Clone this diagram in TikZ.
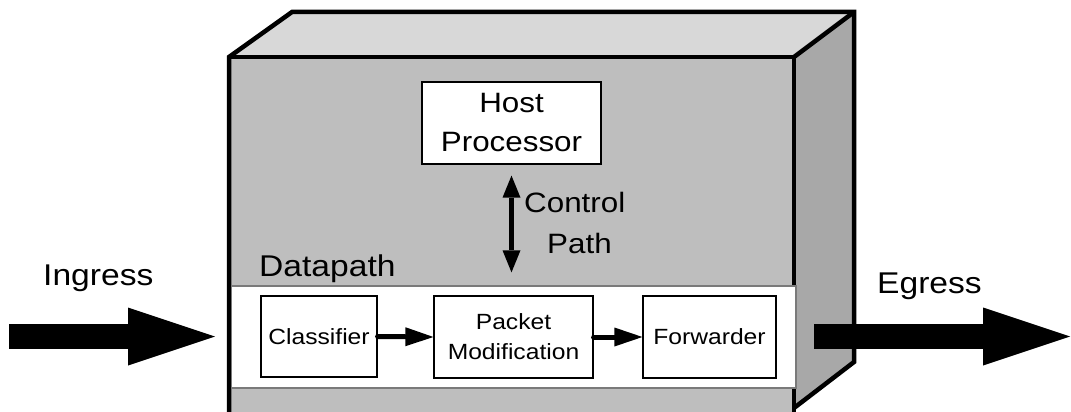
\documentclass[tikz,border=0pt]{standalone}
\usepackage{fontspec}
\setmainfont{Liberation Sans}[FakeStretch=1.12]
\usetikzlibrary{arrows.meta}

\definecolor{faceFront}{HTML}{BEBEBE}
\definecolor{faceTop}{HTML}{D8D8D8}
\definecolor{faceSide}{HTML}{A8A8A8}
\definecolor{bandEdge}{HTML}{7A7A7A}

\tikzset{
  outline/.style={draw=black, line width=4.5pt, line join=miter},
  unit/.style={draw=black, line width=1.2pt, fill=white, inner sep=0pt, align=center},
  flowarrow/.style={line width=5pt, line cap=round,
    -{Triangle[length=28pt,width=19pt,line width=0pt]}},
  ctlarrow/.style={line width=5pt,
    {Triangle[length=22pt,width=18pt,line width=0pt]}-{Triangle[length=22pt,width=18pt,line width=0pt]}},
  bigarrow/.style={line width=25pt,
    -{Triangle[length=87pt,width=58pt,line width=0pt]}},
  label/.style={inner sep=0pt, anchor=base west},
}

\begin{document}
\begin{tikzpicture}[x=1pt, y=-1pt]
\useasboundingbox (0,0) rectangle (1071,412);
\clip (0,0) rectangle (1071,412);

% enclosure: front, top and side faces
\fill[faceFront] (229,57) rectangle (794,430);
\fill[faceTop] (229,57) -- (292,12) -- (854,12) -- (794,57) -- cycle;
\fill[faceSide] (794,57) -- (854,12) -- (854,362) -- (794,408) -- cycle;
\draw[outline] (229,430) -- (229,57) -- (292,12) -- (854,12) -- (854,362) -- (794,408);
\draw[outline] (229,57) -- (794,57) -- (794,430);
\draw[outline] (794,57) -- (854,12);

% datapath band
\node[draw=bandEdge, line width=1.3pt, fill=white, inner sep=0pt,
      minimum width=565pt, minimum height=102pt] (band) at (513.5,337) {};
\draw[outline] (229,280) -- (229,395);

% host processor and control path
\node[unit, minimum width=179pt, minimum height=82pt,
      font=\fontsize{28}{39}\selectfont] (host) at (511.5,123) {Host\\Processor};
\draw[ctlarrow, shorten <=11pt, shorten >=13pt] (host.south) -- (host.south |- band.north);
\node[label, font=\fontsize{28}{34}\selectfont] (ctlA) at (524,212) {Control};
\node[label, font=\fontsize{28}{34}\selectfont] (ctlB) at (547,253) {Path};

\node[label, font=\fontsize{30}{36}\selectfont] (dp) at (259,276) {Datapath};

% pipeline stages
\node[unit, minimum width=116pt, minimum height=81pt,
      font=\fontsize{22}{27}\selectfont] (cls) at (319,336.5) {Classifier};
\node[unit, minimum width=159pt, minimum height=82pt,
      font=\fontsize{22}{30}\selectfont] (pm) at (513.5,337) {Packet\\Modification};
\node[unit, minimum width=133pt, minimum height=82pt,
      font=\fontsize{22}{27}\selectfont] (fwd) at (709.5,337) {Forwarder};
\draw[flowarrow] (cls.east) -- (pm.west);
\draw[flowarrow] (pm.east) -- (fwd.west);

% ingress and egress
\coordinate (inStart) at (9,336.5);
\coordinate (inEnd) at (215,336.5);
\coordinate (outStart) at (814,336.5);
\coordinate (outEnd) at (1070,336.5);
\draw[bigarrow] (inStart) -- (inEnd);
\draw[bigarrow] (outStart) -- (outEnd);
\node[label, font=\fontsize{30}{36}\selectfont] (ing) at (43,285) {Ingress};
\node[label, font=\fontsize{30}{36}\selectfont] (egr) at (877,293) {Egress};
\end{tikzpicture}
\end{document}
